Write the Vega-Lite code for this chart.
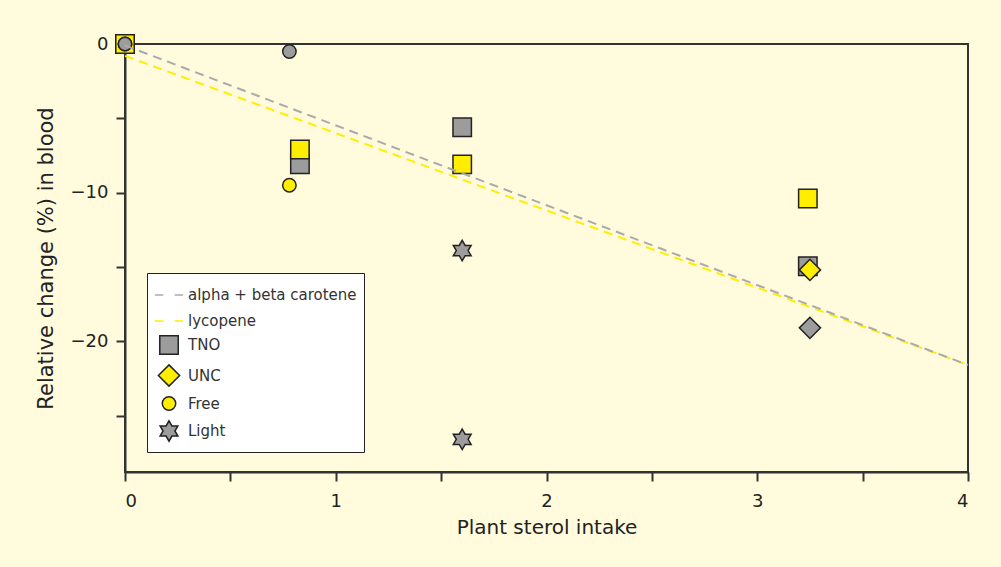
{
  "$schema": "https://vega.github.io/schema/vega-lite/v6.json",
  "width": 843,
  "height": 428,
  "autosize": {"type": "none"},
  "padding": {"left": 125, "top": 44, "right": 33, "bottom": 95},
  "background": "#fffbdc",
  "config": {
    "view": {"stroke": "#333333", "strokeWidth": 2},
    "font": "DejaVu Sans",
    "axis": {
      "grid": false,
      "domainColor": "#333333",
      "domainWidth": 2,
      "tickColor": "#333333",
      "tickWidth": 2,
      "tickSize": 9,
      "labelFont": "DejaVu Sans",
      "labelFontSize": 18,
      "labelColor": "#222222",
      "titleFont": "DejaVu Sans",
      "titleFontSize": 20,
      "titleFontWeight": "normal",
      "titleColor": "#222222"
    },
    "legend": {
      "title": null,
      "labelFont": "DejaVu Sans",
      "labelFontSize": 15,
      "labelColor": "#333333",
      "labelLimit": 400
    }
  },
  "datasets": {
    "points": [
      {"study": "TNO", "carotenoid": "alpha + beta carotene", "intake": 0, "change": 0},
      {"study": "TNO", "carotenoid": "lycopene", "intake": 0, "change": 0},
      {"study": "Free", "carotenoid": "lycopene", "intake": 0, "change": 0},
      {"study": "Free", "carotenoid": "alpha + beta carotene", "intake": 0, "change": 0},
      {"study": "Free", "carotenoid": "alpha + beta carotene", "intake": 0.78, "change": -0.5},
      {"study": "Free", "carotenoid": "lycopene", "intake": 0.78, "change": -9.5},
      {"study": "TNO", "carotenoid": "alpha + beta carotene", "intake": 0.83, "change": -8.1},
      {"study": "TNO", "carotenoid": "lycopene", "intake": 0.83, "change": -7.1},
      {"study": "TNO", "carotenoid": "alpha + beta carotene", "intake": 1.6, "change": -5.6},
      {"study": "TNO", "carotenoid": "lycopene", "intake": 1.6, "change": -8.1},
      {"study": "Light", "carotenoid": "alpha + beta carotene", "intake": 1.6, "change": -13.9},
      {"study": "Light", "carotenoid": "alpha + beta carotene", "intake": 1.6, "change": -26.6},
      {"study": "TNO", "carotenoid": "lycopene", "intake": 3.24, "change": -10.4},
      {"study": "TNO", "carotenoid": "alpha + beta carotene", "intake": 3.24, "change": -14.95},
      {"study": "UNC", "carotenoid": "lycopene", "intake": 3.25, "change": -15.2},
      {"study": "UNC", "carotenoid": "alpha + beta carotene", "intake": 3.25, "change": -19.1}
    ],
    "lines": [
      {"carotenoid": "lycopene", "intake": 0, "change": -0.8},
      {"carotenoid": "lycopene", "intake": 4, "change": -21.6},
      {"carotenoid": "alpha + beta carotene", "intake": 0, "change": -0.1},
      {"carotenoid": "alpha + beta carotene", "intake": 4, "change": -21.6}
    ]
  },
  "encoding": {
    "x": {
      "field": "intake",
      "type": "quantitative",
      "scale": {"domain": [0, 4], "nice": false},
      "axis": {
        "title": "Plant sterol intake",
        "values": [0, 0.5, 1, 1.5, 2, 2.5, 3, 3.5, 4],
        "format": "~g",
        "labelExpr": "datum.value % 1 == 0 ? datum.label : ''",
        "labelPadding": 11,
        "titlePadding": 7
      }
    },
    "y": {
      "field": "change",
      "type": "quantitative",
      "scale": {"domain": [-28.8, 0], "nice": false},
      "axis": {
        "title": "Relative change (%) in blood",
        "titleFontSize": 21,
        "values": [0, -5, -10, -15, -20, -25],
        "labelExpr": "datum.value % 10 == 0 ? datum.label : ''",
        "labelPadding": 8,
        "titlePadding": 14
      }
    }
  },
  "layer": [
    {
      "data": {"name": "points"},
      "mark": {"type": "point", "filled": true, "opacity": 1, "strokeWidth": 1.5},
      "encoding": {
        "fill": {
          "field": "carotenoid",
          "type": "nominal",
          "scale": {
            "domain": ["alpha + beta carotene", "lycopene", "TNO", "UNC", "Free", "Light"],
            "range": ["#9c9c9c", "#ffee00", "#9c9c9c", "#ffee00", "#ffee00", "#9c9c9c"]
          },
          "legend": {"title": null}
        },
        "stroke": {
          "field": "study",
          "type": "nominal",
          "scale": {
            "domain": ["alpha + beta carotene", "lycopene", "TNO", "UNC", "Free", "Light"],
            "range": ["#aaaaaa", "#ffee00", "#222222", "#222222", "#222222", "#222222"]
          },
          "legend": {"title": null}
        },
        "size": {
          "field": "study",
          "type": "nominal",
          "scale": {
            "type": "ordinal",
            "domain": ["alpha + beta carotene", "lycopene", "TNO", "UNC", "Free", "Light"],
            "range": [800, 800, 340, 450, 180, 420]
          },
          "legend": {"title": null}
        },
        "shape": {
          "field": "study",
          "type": "nominal",
          "scale": {
            "domain": ["alpha + beta carotene", "lycopene", "TNO", "UNC", "Free", "Light"],
            "range": [
              "M-1,0H-0.4M0.4,0H1",
              "M-1,0H-0.4M0.4,0H1",
              "square",
              "diamond",
              "circle",
              "M0,-1L0.289,-0.5L0.866,-0.5L0.577,0L0.866,0.5L0.289,0.5L0,1L-0.289,0.5L-0.866,0.5L-0.577,0L-0.866,-0.5L-0.289,-0.5Z"
            ]
          },
          "legend": {
            "title": null,
            "orient": "none",
            "legendX": 22,
            "legendY": 229,
            "padding": 7,
            "fillColor": "#ffffff",
            "strokeColor": "#222222",
            "labelOffset": 4,
            "rowPadding": 3
          }
        }
      }
    },
    {
      "data": {"name": "lines"},
      "mark": {"type": "line", "strokeDash": [9, 6], "strokeWidth": 2},
      "encoding": {
        "stroke": {
          "field": "carotenoid",
          "type": "nominal",
          "legend": {"title": null}
        }
      }
    }
  ]
}
